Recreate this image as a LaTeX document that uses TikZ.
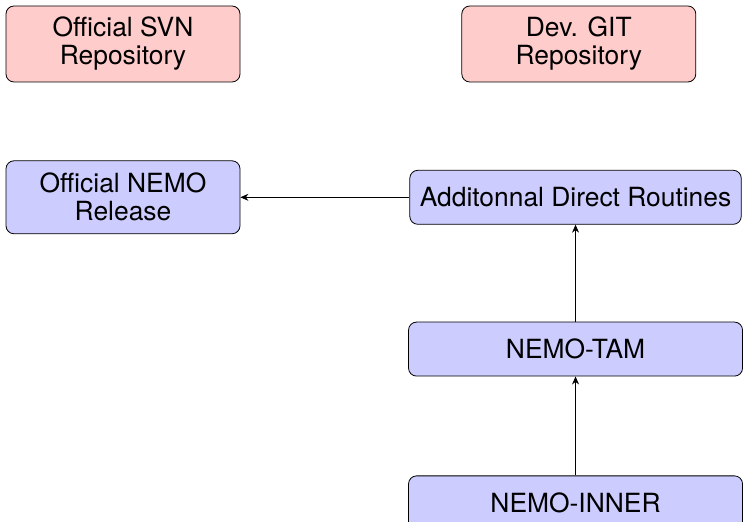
\documentclass[tikz,border=0pt]{standalone}
\usepackage{fontspec}
\setmainfont{TeX Gyre Heros}
\usepackage{tikz}
\usepackage{xcolor}
\usetikzlibrary{arrows.meta,positioning}

\begin{document}
\begin{tikzpicture}[font=\fontsize{13.2}{14}\selectfont,>={Stealth[length=4pt,width=3.5pt]},
  repo/.style={draw,fill=red!20,rounded corners,inner sep=5pt,align=center,minimum width=117pt,minimum height=38pt},
  code/.style={draw,fill=blue!20,rounded corners,inner sep=5pt,align=center,minimum height=27pt}]
  \useasboundingbox (0,0) rectangle (372pt,-261pt);
  % top row: the two repositories
  \node[repo] (svn) at (61.5pt,-22pt) {Official SVN\\Repository};
  \node[repo,right=110.5pt of svn] (git) {Dev. GIT\\Repository};
  % left: the release, right: the chain of codes
  \node[code,minimum width=117pt,minimum height=36.5pt,below=39pt of svn] (release) {Official NEMO\\Release};
  \node[code,right=84.5pt of release] (direct) {Additonnal Direct Routines};
  \node[code,minimum width=167pt,below=48.5pt of direct] (tam) {NEMO-TAM};
  \node[code,minimum width=167pt,below=49.5pt of tam] (inner) {NEMO-INNER};
  \draw[->] (direct) -- (release);
  \draw[->] (tam) -- (direct);
  \draw[->] (inner) -- (tam);
\end{tikzpicture}
\end{document}
